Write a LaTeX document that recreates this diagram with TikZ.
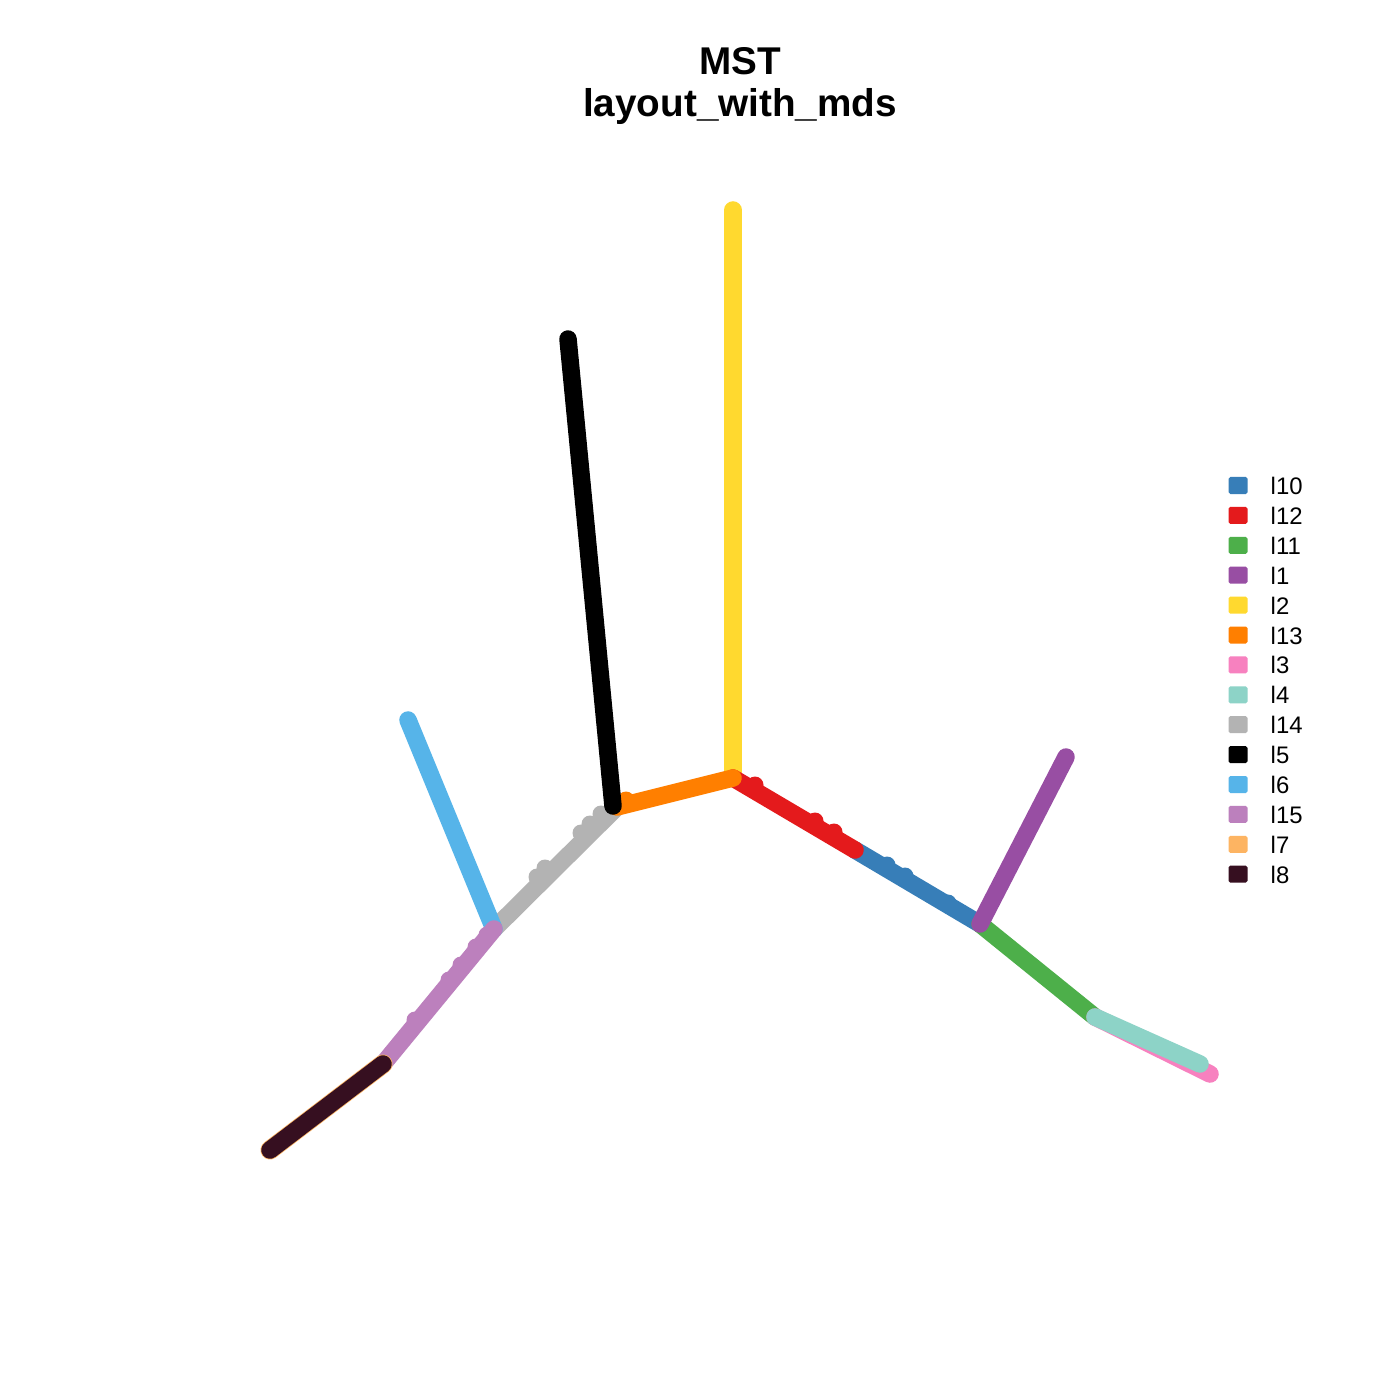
\documentclass[tikz,border=0pt]{standalone}
\usepackage{fontspec}
\setmainfont{Liberation Sans}
\definecolor{cA}{HTML}{377EB8}
\definecolor{cB}{HTML}{E41A1C}
\definecolor{cC}{HTML}{4DAF4A}
\definecolor{cD}{HTML}{984EA3}
\definecolor{cE}{HTML}{FFD92F}
\definecolor{cF}{HTML}{FF7F00}
\definecolor{cG}{HTML}{F781BF}
\definecolor{cH}{HTML}{8DD3C7}
\definecolor{cI}{HTML}{B3B3B3}
\definecolor{cJ}{HTML}{000000}
\definecolor{cK}{HTML}{56B4E9}
\definecolor{cL}{HTML}{BC80BD}
\definecolor{cM}{HTML}{FDB462}
\definecolor{cN}{HTML}{360F20}
\begin{document}
\begin{tikzpicture}[x=0.01cm,y=-0.01cm,
  edge/.style={line width=0.175cm,line cap=round},
  legbox/.style={minimum width=0.19cm,minimum height=0.17cm,inner sep=0pt,rounded corners=0.5pt},
  legtxt/.style={anchor=west,inner sep=0pt,font=\fontsize{6.8pt}{8pt}\selectfont},
  ttl/.style={align=center,inner sep=0pt,font=\fontsize{11pt}{11.7pt}\selectfont\bfseries}]
\useasboundingbox (0,0) rectangle (1400,1400);
\fill[white] (0,0) rectangle (1400,1400);
% points
\coordinate (A) at (733,778);
\coordinate (Y) at (733,210);
\coordinate (O) at (617,807);
\coordinate (K) at (568,339);
\coordinate (G) at (494,929);
\coordinate (S) at (408,720);
\coordinate (P) at (383,1064);
\coordinate (D) at (270,1150);
\coordinate (R) at (855,850);
\coordinate (B) at (980,924);
\coordinate (V) at (1066,757);
\coordinate (E) at (1095,1017);
\coordinate (Q) at (1210,1074);
\coordinate (T) at (1200,1064);
% edges
\draw[edge,cE] (A) -- (Y);
\draw[edge,cI] (O) -- (G);
\fill[cI] (601,814) circle[radius=8.5] (590,824) circle[radius=8.5] (581,833) circle[radius=8.5] (545,868) circle[radius=8.5] (537,877) circle[radius=8.5];
\draw[edge,cK] (S) -- (G);
\draw[edge,cL] (G) -- (P);
\fill[cL] (487,935) circle[radius=8.5] (476,947) circle[radius=8.5] (461,965) circle[radius=8.5] (449,980) circle[radius=8.5] (415,1020) circle[radius=8.5];
\draw[edge,cM,line width=0.19cm] (P) -- (D);
\draw[edge,cN] (P) -- (D);
\draw[edge,cA] (R) -- (B);
\fill[cA] (887,865) circle[radius=8.5] (905,876) circle[radius=8.5] (948,903) circle[radius=8.5];
\draw[edge,cB] (A) -- (R);
\fill[cB] (755,785) circle[radius=8.5] (815,821) circle[radius=8.5] (834,832) circle[radius=8.5];
\draw[edge,cF] (A) -- (O);
\fill[cF] (626,800) circle[radius=8.5];
\draw[edge,cJ] (613,806) -- (K);
\draw[edge,cC] (B) -- (E);
\draw[edge,cD] (B) -- (V);
\draw[edge,cG] (E) -- (Q);
\draw[edge,cH] (E) -- (T);
% title
\node[ttl] (title) at (740,86) {MST\\layout\_with\_mds};
% legend
\foreach \i/\c/\t in {0/cA/l10,1/cB/l12,2/cC/l11,3/cD/l1,4/cE/l2,5/cF/l13,6/cG/l3,7/cH/l4,8/cI/l14,9/cJ/l5,10/cK/l6,11/cL/l15,12/cM/l7,13/cN/l8}{
  \node[legbox,fill=\c] (lb\i) at (1238,485.5+29.9*\i) {};
  \node[legtxt] (lt\i) at (1270,486+29.9*\i) {\t};
}
\end{tikzpicture}
\end{document}
